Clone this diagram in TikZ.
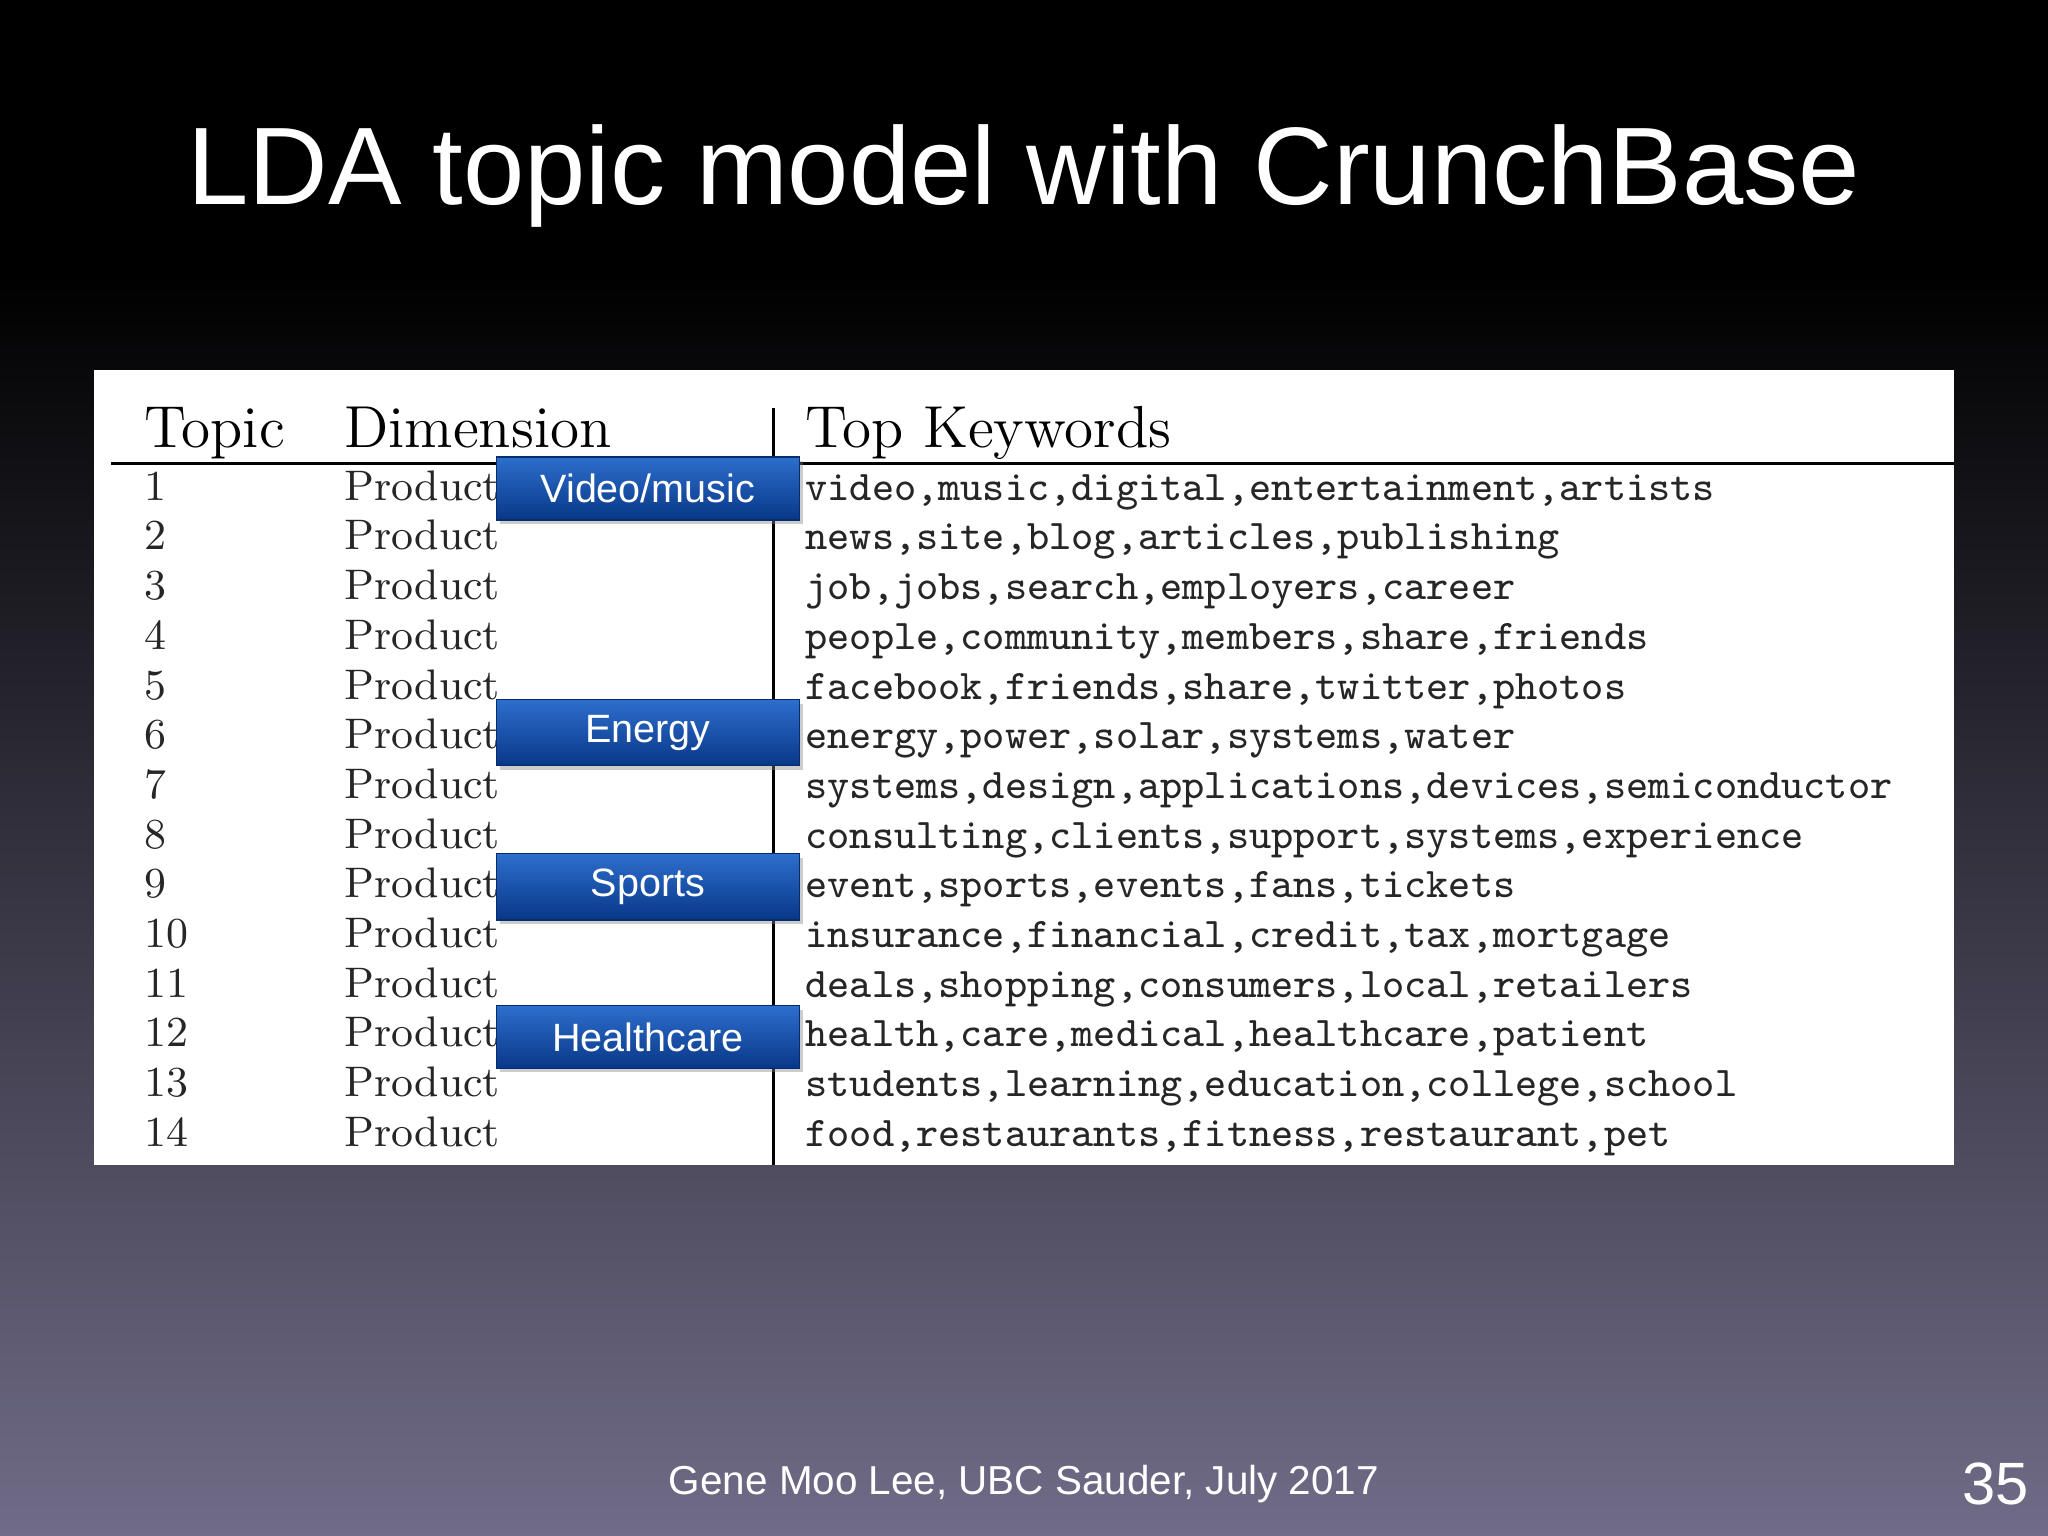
\documentclass[tikz,border=0pt]{standalone}
\usepackage{fontspec}
\setmainfont{Latin Modern Roman}
\newfontfamily\hv{Liberation Sans}
\setmonofont{Latin Modern Mono}
\usetikzlibrary{shadows}
\definecolor{bgbot}{RGB}{112,108,136}
\definecolor{bluetop}{RGB}{45,110,205}
\definecolor{bluebot}{RGB}{8,55,135}
\tikzset{
 badge/.style={minimum width=2.32cm,minimum height=0.48cm,top color=bluetop,bottom color=bluebot,draw=bluebot!80!black,line width=0.3pt,text=white,font=\hv\fontsize{8.6pt}{9pt}\selectfont,drop shadow={opacity=0.4,shadow xshift=0.03cm,shadow yshift=-0.03cm}},
 hd/.style={anchor=base west,font=\fontsize{12.9pt}{15pt}\selectfont,inner sep=0},
 rw/.style={anchor=base west,font=\fontsize{9.3pt}{10pt}\selectfont,inner sep=0,text=black!85},
 kw/.style={anchor=base west,font=\ttfamily\fontsize{9.2pt}{10pt}\selectfont,inner sep=0,text=black!85}
}
\begin{document}
\begin{tikzpicture}[x=0.01cm,y=-0.01cm]
\useasboundingbox (0,0) rectangle (1568,1176);
\fill[black] (0,0) rectangle (1568,210);
\shade[top color=black,bottom color=bgbot] (0,209) rectangle (1568,1176);
\node[text=white,font=\hv\fontsize{24pt}{28pt}\selectfont] (title) at (784,135) {LDA topic model with CrunchBase};
\fill[white] (72,283) rectangle (1496,892);
\draw[line width=0.6pt] (85,355) -- (1496,355);
\draw[line width=0.6pt] (592,312) -- (592,892);
\node[hd] (h1) at (110,343) {Topic};
\node[hd] (h2) at (263,343) {Dimension};
\node[hd] (h3) at (616,343) {Top Keywords};
\foreach \i/\k in {1/{video,music,digital,entertainment,artists},2/{news,site,blog,articles,publishing},3/{job,jobs,search,employers,career},4/{people,community,members,share,friends},5/{facebook,friends,share,twitter,photos},6/{energy,power,solar,systems,water},7/{systems,design,applications,devices,semiconductor},8/{consulting,clients,support,systems,experience},9/{event,sports,events,fans,tickets},10/{insurance,financial,credit,tax,mortgage},11/{deals,shopping,consumers,local,retailers},12/{health,care,medical,healthcare,patient},13/{students,learning,education,college,school},14/{food,restaurants,fitness,restaurant,pet}}{
 \pgfmathsetmacro\yy{383+(\i-1)*38.05}
 \node[rw] (t\i) at (110,\yy) {\i};
 \node[rw] (d\i) at (263,\yy) {Product};
 \node[kw] (k\i) at (616,\yy) {\k};
}
\node[badge] (b1) at (496,374) {Video/music};
\node[badge] (b2) at (496,561) {Energy};
\node[badge] (b3) at (496,679) {Sports};
\node[badge] (b4) at (496,794) {Healthcare};
\node[text=white,font=\hv\fontsize{8.8pt}{10pt}\selectfont] (foot) at (784,1136) {Gene Moo Lee, UBC Sauder, July 2017};
\node[text=white,font=\hv\fontsize{13pt}{14pt}\selectfont] (pg) at (1528,1136) {35};
\end{tikzpicture}
\end{document}
